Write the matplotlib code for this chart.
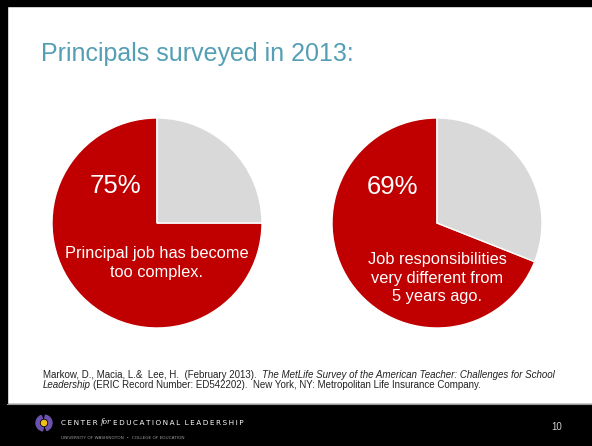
import matplotlib
matplotlib.use("Agg")
import matplotlib.pyplot as plt
from matplotlib.patches import Rectangle, Circle, Wedge

plt.rcParams['font.family'] = ['Liberation Sans', 'DejaVu Sans']

# data
title = "Principals surveyed in 2013:"
pie_values = [[75, 25], [69, 31]]
pie_pct_labels = ["75%", "69%"]
pie_captions = ["Principal job has become\ntoo complex.",
                "Job responsibilities\nvery different from\n5 years ago."]
citation_l1 = ["Markow, D., Macia, L.&  Lee, H.  (February 2013).",
               "The MetLife Survey of the American Teacher: Challenges for School"]
citation_l2 = ["Leadership",
               "(ERIC Record Number: ED542202).  New York, NY: Metropolitan Life Insurance Company."]
page_number = "10"

RED = '#C00000'
GRAY = '#D9D9D9'
TEAL = '#549FB5'

W, H = 592, 446
fig = plt.figure(figsize=(W / 100, H / 100), dpi=100)
fig.patch.set_facecolor('white')

# background / frame
bg = fig.add_axes([0, 0, 1, 1])
bg.set_xlim(0, W)
bg.set_ylim(H, 0)
bg.axis('off')
bg.add_patch(Rectangle((0, 0), W, 6, color='black'))
bg.add_patch(Rectangle((0, 0), 7, 404, color='black'))
bg.add_patch(Rectangle((0, 404), W, H - 404, color='black'))
bg.plot([7, W], [404, 404], color='#9a9a9a', lw=0.8)

# pies
centers = [(157, 223), (437, 223)]
r = 105
for (cx, cy), vals in zip(centers, pie_values):
    pax = fig.add_axes([(cx - r) / W, 1 - (cy + r) / H, 2 * r / W, 2 * r / H])
    pax.pie(vals, colors=[RED, GRAY], startangle=90, counterclock=True,
            wedgeprops=dict(edgecolor='white', linewidth=1))
    pax.set_xlim(-1, 1)
    pax.set_ylim(-1, 1)
    pax.axis('off')

# top overlay for text
top = fig.add_axes([0, 0, 1, 1])
top.set_xlim(0, W)
top.set_ylim(H, 0)
top.axis('off')
top.patch.set_alpha(0)

top.text(41, 54, title, color=TEAL, fontsize=18, va='center', ha='left')

top.text(115, 186, pie_pct_labels[0], color='white', fontsize=18.5, ha='center', va='center')
top.text(392, 187, pie_pct_labels[1], color='white', fontsize=18.5, ha='center', va='center')
top.text(157, 263, pie_captions[0], color='white', fontsize=11.8, ha='center', va='center',
         linespacing=1.33)
top.text(437, 278, pie_captions[1], color='white', fontsize=11.8, ha='center', va='center',
         linespacing=1.33)

# citation with inline italics
cfs = 7.05
t1 = top.text(43, 375, citation_l1[0], fontsize=cfs, va='center', ha='left', color='#222222')
top.annotate(citation_l1[1], xy=(1, 0), xycoords=t1, xytext=(4, 0),
             textcoords='offset points', va='bottom', ha='left', fontsize=cfs,
             style='italic', color='#222222')
t3 = top.text(43, 385, citation_l2[0], fontsize=cfs, va='center', ha='left',
              style='italic', color='#222222')
top.annotate(citation_l2[1], xy=(1, 0), xycoords=t3, xytext=(1.8, 0),
             textcoords='offset points', va='bottom', ha='left', fontsize=cfs,
             color='#222222')

# footer logo
lx, ly = 44, 423
top.add_patch(Wedge((lx, ly), 8, 100, 250, width=3.2, color='#6B52AE'))
top.add_patch(Wedge((lx, ly), 8, 280, 70, width=3.2, color='#6B52AE'))
top.add_patch(Circle((lx, ly), 2.6, color='#F2C014'))

sp = '\u2009'
f1 = top.text(61, 423, sp.join("CENTER"), color='white', fontsize=5.2,
              va='center', ha='left', family=['DejaVu Sans'])
f2 = top.annotate("for", xy=(1, 0), xycoords=f1, xytext=(2, 0), textcoords='offset points',
                  va='bottom', ha='left', fontsize=5.2, style='italic', color='white',
                  family=['DejaVu Serif'])
top.annotate(sp.join("EDUCATIONAL") + "  " + sp.join("LEADERSHIP"), xy=(1, 0), xycoords=f2,
             xytext=(1.5, 0), textcoords='offset points', va='bottom', ha='left',
             fontsize=5.2, color='white', family=['DejaVu Sans'])
top.text(61, 438, "UNIVERSITY OF WASHINGTON  \u2022  COLLEGE OF EDUCATION", color='#9a9a9a',
         fontsize=3.1, va='center', ha='left', family=['DejaVu Sans'])
top.text(557, 427, page_number, color='#cfcfcf', fontsize=7, va='center', ha='center')

fig.savefig('out.png', dpi=100)
